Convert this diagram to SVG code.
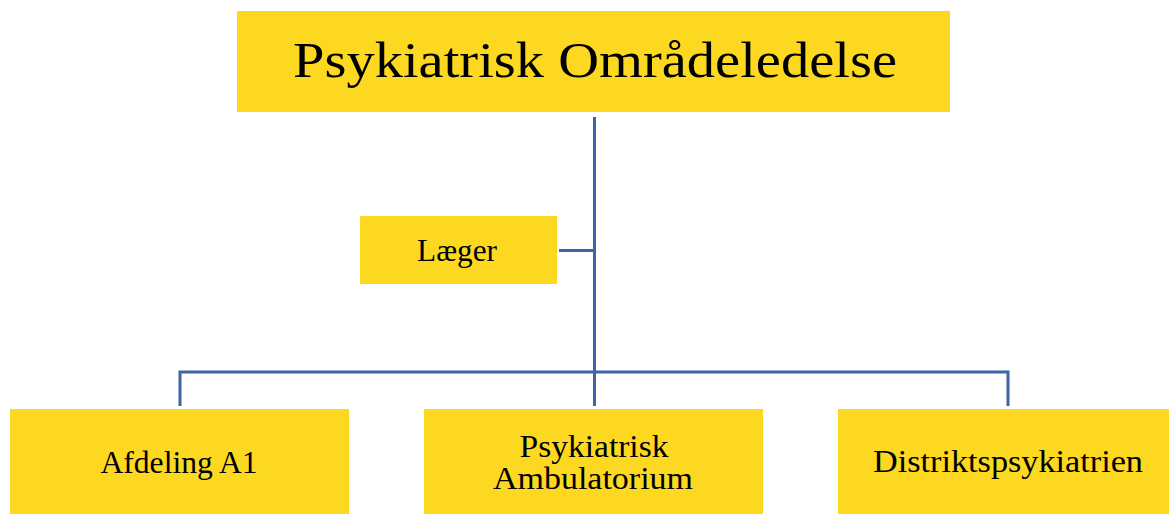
<svg xmlns="http://www.w3.org/2000/svg" width="1169" height="514" viewBox="0 0 1169 514">
<style>
.box{fill:#FDD820;}
.t{font-family:"Liberation Serif","DejaVu Serif",serif;fill:#000;text-anchor:middle;}
.c{stroke:#3F63A3;stroke-width:3;fill:none;}
</style>
<rect width="1169" height="514" fill="#fff"/>
<g id="connectors">
<path class="c" d="M594.5 117V372M559 250.5H594.5M180 406V372H1008V406M594.5 372V406"/>
</g>
<g id="top">
<rect class="box" x="237" y="11" width="713" height="101"/>
<text class="t" x="595" y="77" font-size="51" textLength="604" lengthAdjust="spacingAndGlyphs">Psykiatrisk Områdeledelse</text>
</g>
<g id="laeger">
<rect class="box" x="360" y="216" width="197" height="68"/>
<text class="t" x="457" y="261" font-size="31" textLength="80" lengthAdjust="spacingAndGlyphs">Læger</text>
</g>
<g id="afdeling">
<rect class="box" x="10" y="409" width="339" height="105"/>
<text class="t" x="179" y="473" font-size="31" textLength="157" lengthAdjust="spacingAndGlyphs">Afdeling A1</text>
</g>
<g id="ambulatorium">
<rect class="box" x="424" y="409" width="339" height="105"/>
<text class="t" x="594" y="457" font-size="31" textLength="149" lengthAdjust="spacingAndGlyphs">Psykiatrisk</text>
<text class="t" x="593" y="489" font-size="31" textLength="200" lengthAdjust="spacingAndGlyphs">Ambulatorium</text>
</g>
<g id="distrikt">
<rect class="box" x="838" y="409" width="331" height="105"/>
<text class="t" x="1008" y="472" font-size="31" textLength="270" lengthAdjust="spacingAndGlyphs">Distriktspsykiatrien</text>
</g>
</svg>
